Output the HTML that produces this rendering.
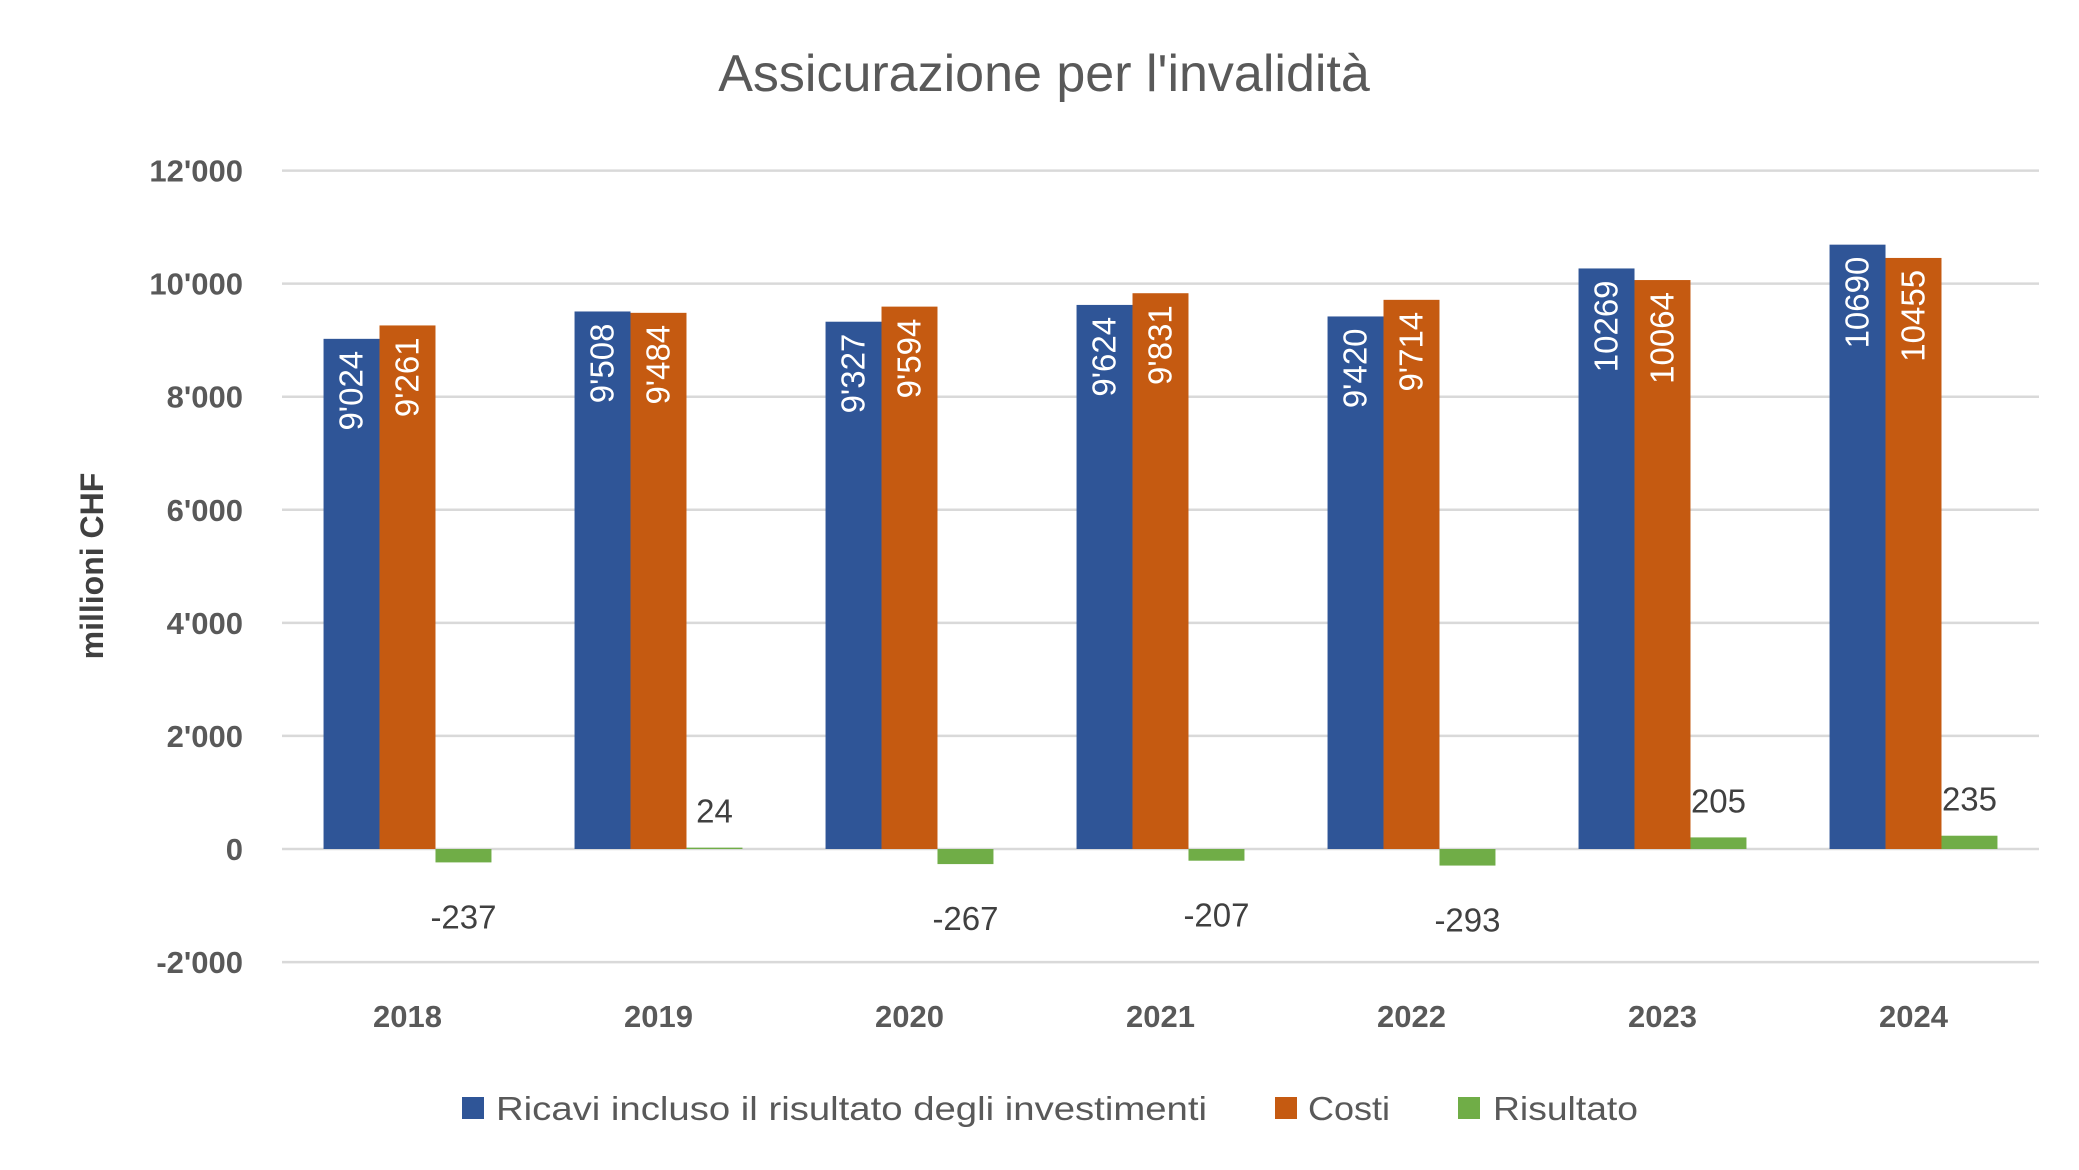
<!DOCTYPE html>
<html><head><meta charset="utf-8"><style>
html,body{margin:0;padding:0;background:#fff}
svg{display:block;font-family:"Liberation Sans",sans-serif}
</style></head><body>
<svg id="chart" width="2079" height="1170" viewBox="0 0 2079 1170">
<text x="1044" y="91" font-size="52" fill="#595959" text-anchor="middle">Assicurazione per l'invalidità</text>
<text transform="translate(103,566) rotate(-90)" font-size="32" font-weight="bold" fill="#404040" text-anchor="middle">millioni CHF</text>
<g id="grid"></g><g id="bars"></g><g id="labels"></g>
<g>
<rect x="462" y="1097" width="22" height="22" fill="#2F5597"/>
<text x="496" y="1120" font-size="33" fill="#595959" textLength="711" lengthAdjust="spacingAndGlyphs">Ricavi incluso il risultato degli investimenti</text>
<rect x="1275" y="1097" width="22" height="22" fill="#C55A11"/>
<text x="1308" y="1120" font-size="33" fill="#595959" textLength="82" lengthAdjust="spacingAndGlyphs">Costi</text>
<rect x="1458" y="1097" width="22" height="22" fill="#70AD47"/>
<text x="1493" y="1120" font-size="33" fill="#595959" textLength="145" lengthAdjust="spacingAndGlyphs">Risultato</text>
</g>
</svg>
<script>
const categories=["2018","2019","2020","2021","2022","2023","2024"];
const ricavi=[9024,9508,9327,9624,9420,10269,10690];
const costi=[9261,9484,9594,9831,9714,10064,10455];
const risultato=[-237,24,-267,-207,-293,205,235];
const ricaviLabels=["9'024","9'508","9'327","9'624","9'420","10269","10690"];
const costiLabels=["9'261","9'484","9'594","9'831","9'714","10064","10455"];
const risultatoLabels=["-237","24","-267","-207","-293","205","235"];
const yTicks=[-2000,0,2000,4000,6000,8000,10000,12000];
const yTickLabels=["-2'000","0","2'000","4'000","6'000","8'000","10'000","12'000"];

const NS="http://www.w3.org/2000/svg";
const L=282,R=2039,Y0=849,PER=(849-170.6)/12000;
const y=v=>Y0-v*PER;
const slot=(R-L)/categories.length;
const bw=slot*0.223;
const cx=i=>L+slot*(i+0.5);
function mk(tag,attrs,parent,txt){const e=document.createElementNS(NS,tag);for(const k in attrs)e.setAttribute(k,attrs[k]);if(txt!==undefined)e.textContent=txt;document.getElementById(parent).appendChild(e);return e;}
yTicks.forEach((t,i)=>{
  const g=mk('line',{x1:L,x2:R,y1:y(t),y2:y(t),stroke:'#d9d9d9','stroke-width':2.5},'grid');
  
  
  const tl=mk('text',{x:243,y:y(t)+11,'font-size':31,'font-weight':'bold',fill:'#595959','text-anchor':'end'},'grid',yTickLabels[i]);
  
  
});
categories.forEach((c,i)=>{
  const xl=mk('text',{x:cx(i),y:1027,'font-size':31,'font-weight':'bold',fill:'#595959','text-anchor':'middle'},'grid',c);
  
  
  const series=[[ricavi,'#2F5597','bar-ricavi'],[costi,'#C55A11','bar-costi'],[risultato,'#70AD47','bar-risultato']];
  series.forEach((s,k)=>{
    const v=s[0][i];const x0=cx(i)-1.5*bw+k*bw;
    const top=Math.min(y(v),y(0)),h=Math.abs(y(v)-y(0));
    const b=mk('rect',{x:x0,y:top,width:bw,height:h,fill:s[1]},'bars');
    
    
    if(k<2){
      const lab=k==0?ricaviLabels[i]:costiLabels[i];
      const tx=x0+bw/2+11, ty=y(v)+12;
      const t=mk('text',{transform:`translate(${tx},${ty}) rotate(-90)`,'font-size':33,fill:'#fff','text-anchor':'end'},'labels',lab);
      
      
    } else {
      const ly=v<0?y(v)+66:y(v)-25;
      const t=mk('text',{x:x0+bw/2,y:ly,'font-size':33,fill:'#404040','text-anchor':'middle'},'labels',risultatoLabels[i]);
      
      
    }
  });
});
</script>
</body></html>
